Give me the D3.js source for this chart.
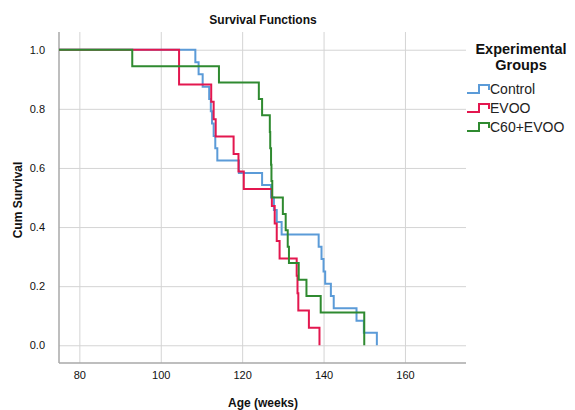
<!DOCTYPE html>
<html>
<head>
<meta charset="utf-8">
<script src="https://cdn.jsdelivr.net/npm/d3@7"></script>
<style>
  body { margin: 0; background: #fff; }
  svg { font-family: "Liberation Sans", Arial, sans-serif; }
  .grid line { stroke: #d4d4d4; stroke-width: 1; }
  .grid path { display: none; }
  .tick text { fill: #111; font-size: 11px; }
  .title { font-weight: bold; font-size: 12px; fill: #111; }
  .legend-title { font-weight: bold; font-size: 14.5px; fill: #111; }
</style>
</head>
<body>
<svg id="chart" width="575" height="410"></svg>
<script>
// step events: time (weeks) and survival level after the drop
var controlTimes = [108.5, 109.3, 110.3, 111.9, 112.3, 112.6, 113.0, 113.4, 113.9, 119.2, 124.9, 127.1,
  127.8, 128.5, 129.7, 138.8, 139.5, 140.0, 140.4, 141.8, 142.5, 148.1, 149.9, 153.1];
var controlSurv = [0.958, 0.917, 0.875, 0.833, 0.792, 0.750, 0.708, 0.667, 0.625, 0.583, 0.542, 0.500,
  0.458, 0.417, 0.375, 0.333, 0.292, 0.250, 0.208, 0.167, 0.125, 0.083, 0.042, 0];

var evooTimes = [104.5, 112.4, 113.0, 113.5, 117.9, 119.1, 120.4, 127.3, 128.0, 128.5, 129.2,
  133.4, 133.6, 133.8, 136.4, 139.0];
var evooSurv = [0.882, 0.824, 0.765, 0.706, 0.647, 0.588, 0.529, 0.471, 0.412, 0.353, 0.294,
  0.235, 0.176, 0.118, 0.059, 0];

var c60Times = [93.0, 114.3, 124.1, 124.9, 126.8, 126.9, 127.1, 127.2, 127.4, 130.0, 130.7, 131.2,
  131.5, 133.9, 135.8, 139.3, 150.0];
var c60Surv = [0.944, 0.889, 0.833, 0.778, 0.722, 0.667, 0.611, 0.556, 0.500, 0.444, 0.389, 0.333,
  0.278, 0.222, 0.167, 0.111, 0];

var groups = ["Control", "EVOO", "C60+EVOO"];
var colors = ["#5b9bd8", "#e3174f", "#2f8a30"];
var xTicks = [80, 100, 120, 140, 160];
var yTicks = [0, 0.2, 0.4, 0.6, 0.8, 1.0];

var svg = d3.select("#chart");
var plot = { left: 59, right: 466, top: 32, bottom: 363 };

var x = d3.scaleLinear().domain([75, 175]).range([plot.left, plot.right]);
var y = d3.scaleLinear().domain([-0.06, 1.06]).range([plot.bottom, plot.top]);

// gridlines
svg.append("g")
  .attr("class", "grid")
  .attr("transform", "translate(0," + plot.bottom + ")")
  .call(d3.axisBottom(x).tickValues(xTicks).tickSize(-(plot.bottom - plot.top)).tickFormat(""));
svg.append("g")
  .attr("class", "grid")
  .attr("transform", "translate(" + plot.left + ",0)")
  .call(d3.axisLeft(y).tickValues(yTicks).tickSize(-(plot.right - plot.left)).tickFormat(""));

// tick labels
var gx = svg.append("g")
  .attr("transform", "translate(0," + (plot.bottom + 5) + ")")
  .call(d3.axisBottom(x).tickValues(xTicks).tickSize(0).tickFormat(d3.format("d")));
gx.select(".domain").remove();
var gy = svg.append("g")
  .attr("transform", "translate(" + (plot.left - 11) + ",0)")
  .call(d3.axisLeft(y).tickValues(yTicks).tickSize(0).tickFormat(d3.format(".1f")));
gy.select(".domain").remove();

// axis lines
svg.append("line")
  .attr("x1", plot.left).attr("x2", plot.left).attr("y1", plot.top).attr("y2", plot.bottom)
  .attr("stroke", "#a8a8a8").attr("stroke-width", 1.5);
svg.append("line")
  .attr("x1", plot.left).attr("x2", plot.right).attr("y1", plot.bottom).attr("y2", plot.bottom)
  .attr("stroke", "#a8a8a8").attr("stroke-width", 1.5);

var series = [
  { name: groups[0], times: controlTimes, surv: controlSurv },
  { name: groups[1], times: evooTimes, surv: evooSurv },
  { name: groups[2], times: c60Times, surv: c60Surv }
];

var line = d3.line()
  .x(function(d) { return x(d[0]); })
  .y(function(d) { return y(d[1]); })
  .curve(d3.curveStepAfter);

svg.selectAll("path.km")
  .data(series)
  .enter()
  .append("path")
  .classed("km", true)
  .attr("fill", "none")
  .attr("stroke", function(d, i) { return colors[i]; })
  .attr("stroke-width", 2)
  .attr("d", function(s) {
    var pts = [[x.domain()[0], 1]];
    for (var i = 0; i < s.times.length; i++) {
      pts.push([s.times[i], s.surv[i]]);
    }
    return line(pts);
  });

// titles
svg.append("text").attr("class", "title")
  .attr("x", 263).attr("y", 24).attr("text-anchor", "middle")
  .text("Survival Functions");
svg.append("text").attr("class", "title")
  .attr("x", 263).attr("y", 407).attr("text-anchor", "middle")
  .text("Age (weeks)");
svg.append("text").attr("class", "title")
  .attr("transform", "translate(22,200) rotate(-90)")
  .attr("text-anchor", "middle")
  .text("Cum Survival");

// legend
svg.append("text").attr("class", "legend-title")
  .attr("x", 521).attr("y", 54).attr("text-anchor", "middle")
  .text("Experimental");
svg.append("text").attr("class", "legend-title")
  .attr("x", 521).attr("y", 70).attr("text-anchor", "middle")
  .text("Groups");

var items = svg.selectAll("g.item")
  .data(groups)
  .enter()
  .append("g")
  .classed("item", true)
  .attr("transform", function(d, i) { return "translate(467," + (89 + i * 19) + ")"; });

items.append("path")
  .attr("fill", "none")
  .attr("stroke", function(d, i) { return colors[i]; })
  .attr("stroke-width", 2)
  .attr("d", "M0,4H12V-4H22V1");

items.append("text")
  .attr("x", 23).attr("y", 5)
  .attr("font-size", 14)
  .attr("fill", "#222")
  .text(function(d) { return d; });
</script>
</body>
</html>
